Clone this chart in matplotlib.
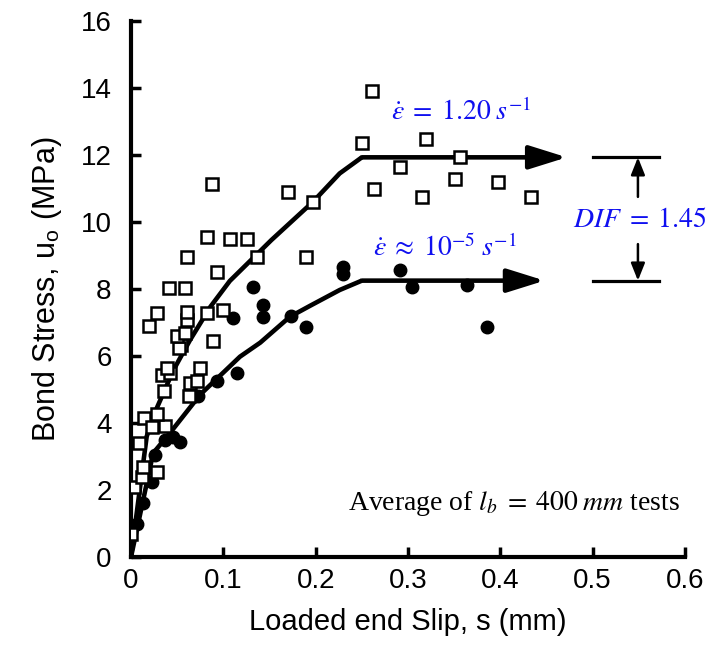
import matplotlib
matplotlib.use("Agg")
import matplotlib.pyplot as plt

plt.rcParams["font.family"] = ["Liberation Sans", "DejaVu Sans"]
plt.rcParams["mathtext.fontset"] = "stix"

# open squares: high strain rate tests (1.20 1/s)
sq_s = [0.0, 0.0033, 0.0116, 0.0134, 0.0278, 0.0087, 0.0141, 0.0224, 0.0368, 0.0285,
        0.0357, 0.0632, 0.0639, 0.0718, 0.0332, 0.0422, 0.0387, 0.0747, 0.054, 0.0523,
        0.0885, 0.0495, 0.0585, 0.0198, 0.061, 0.0278, 0.061, 0.082, 0.0993, 0.0415,
        0.0585, 0.0935, 0.061, 0.137, 0.189, 0.082, 0.107, 0.126, 0.088, 0.170,
        0.197, 0.261, 0.250, 0.320, 0.356, 0.291, 0.263, 0.351, 0.397, 0.315, 0.433]
sq_u = [0.7, 2.1, 2.4, 2.7, 2.55, 3.39, 4.14, 3.89, 3.91, 4.27,
        4.96, 4.81, 5.2, 5.26, 5.43, 5.48, 5.63, 5.63, 6.33, 6.23,
        6.46, 6.61, 6.7, 6.9, 7.07, 7.29, 7.32, 7.29, 7.37, 8.04,
        8.04, 8.5, 8.95, 8.95, 8.95, 9.54, 9.48, 9.48, 11.12, 10.9,
        10.59, 13.92, 12.35, 12.49, 11.95, 11.65, 10.99, 11.28, 11.2, 10.76, 10.76]

# filled circles: quasi-static tests
ci_s = [0.0065, 0.0134, 0.0224, 0.026, 0.0368, 0.0458, 0.053, 0.0729, 0.0935, 0.115,
        0.110, 0.143, 0.143, 0.132, 0.173, 0.190, 0.230, 0.230, 0.291, 0.304, 0.364, 0.386]
ci_u = [1.0, 1.6, 2.25, 3.04, 3.49, 3.59, 3.44, 4.81, 5.25, 5.48,
        7.14, 7.16, 7.52, 8.05, 7.2, 6.86, 8.67, 8.45, 8.57, 8.05, 8.12, 6.86]

# average curves
up_s = [0, 0.017, 0.028, 0.046, 0.064, 0.086, 0.107, 0.152, 0.197, 0.226, 0.25]
up_u = [0, 3.6, 4.45, 5.58, 6.48, 7.47, 8.24, 9.46, 10.6, 11.45, 11.93]
up_tip = 0.472
lo_s = [0, 0.024, 0.045, 0.075, 0.118, 0.14, 0.172, 0.194, 0.226, 0.25]
lo_u = [0, 3.1, 3.8, 4.85, 5.98, 6.4, 7.17, 7.5, 7.97, 8.25]
lo_tip = 0.448

xticks = [0, 0.1, 0.2, 0.3, 0.4, 0.5, 0.6]
xticklabels = ["0", "0.1", "0.2", "0.3", "0.4", "0.5", "0.6"]
yticks = [0, 2, 4, 6, 8, 10, 12, 14, 16]

blue = "#1010F0"

fig = plt.figure(figsize=(7.17, 6.64), dpi=100)
ax = fig.add_axes([0.1827, 0.1611, 0.7727, 0.8073])

ax.plot(up_s, up_u, color="k", lw=3.3, zorder=2, solid_capstyle="butt")
ax.plot(lo_s, lo_u, color="k", lw=3.3, zorder=2, solid_capstyle="butt")
head = "-|>,head_length=1.15,head_width=0.36"
ax.annotate("", xy=(up_tip, up_u[-1]), xytext=(up_s[-1], up_u[-1]),
            arrowprops=dict(arrowstyle=head, lw=3.3, color="k", mutation_scale=20,
                            shrinkA=0, shrinkB=0), zorder=2)
ax.annotate("", xy=(lo_tip, lo_u[-1]), xytext=(lo_s[-1], lo_u[-1]),
            arrowprops=dict(arrowstyle=head, lw=3.3, color="k", mutation_scale=20,
                            shrinkA=0, shrinkB=0), zorder=2)

ax.plot(ci_s, ci_u, "o", color="k", ms=9, zorder=3)
ax.plot(sq_s, sq_u, "s", mfc="white", mec="k", mew=1.8, ms=8.8, zorder=4)

# DIF bracket
ax.plot([0.500, 0.572], [up_u[-1], up_u[-1]], color="k", lw=2.3)
ax.plot([0.500, 0.572], [lo_u[-1], lo_u[-1]], color="k", lw=2.3)
small = "-|>,head_length=0.75,head_width=0.3"
ax.annotate("", xy=(0.549, up_u[-1]), xytext=(0.549, 10.75),
            arrowprops=dict(arrowstyle=small, lw=1.8, color="k", mutation_scale=14,
                            shrinkA=0, shrinkB=0))
ax.annotate("", xy=(0.549, lo_u[-1]), xytext=(0.549, 9.34),
            arrowprops=dict(arrowstyle=small, lw=1.8, color="k", mutation_scale=14,
                            shrinkA=0, shrinkB=0))

ax.text(0.357, 13.28, r"$\dot{\varepsilon}\;=\;1.20\;s^{-1}$", color=blue, fontsize=20,
        ha="center", va="center")
ax.text(0.340, 9.21, r"$\dot{\varepsilon}\;\approx\;10^{-5}\;s^{-1}$", color=blue, fontsize=20,
        ha="center", va="center")
ax.text(0.551, 10.06, r"$DIF\;=\;1.45$", color=blue, fontsize=20, ha="center", va="center")
ax.text(0.595, 1.6, r"Average of $l_b\;=\;400\;mm$ tests", fontsize=20,
        family=["Liberation Serif", "DejaVu Serif"], ha="right", va="center")

ax.set_xlim(0, 0.6)
ax.set_ylim(0, 16)
ax.set_xticks(xticks)
ax.set_xticklabels(xticklabels)
ax.set_yticks(yticks)
ax.tick_params(direction="in", length=7, width=2.5, labelsize=20)
ax.tick_params(axis="x", pad=8)
ax.tick_params(axis="y", pad=14)
for side in ["top", "right"]:
    ax.spines[side].set_visible(False)
for side in ["left", "bottom"]:
    ax.spines[side].set_linewidth(3)

ax.set_xlabel("Loaded end Slip, s (mm)", fontsize=21, labelpad=10)
ax.set_ylabel(r"Bond Stress, u$_\mathregular{o}$ (MPa)", fontsize=22, labelpad=12)

fig.savefig("out.png", dpi=100)
